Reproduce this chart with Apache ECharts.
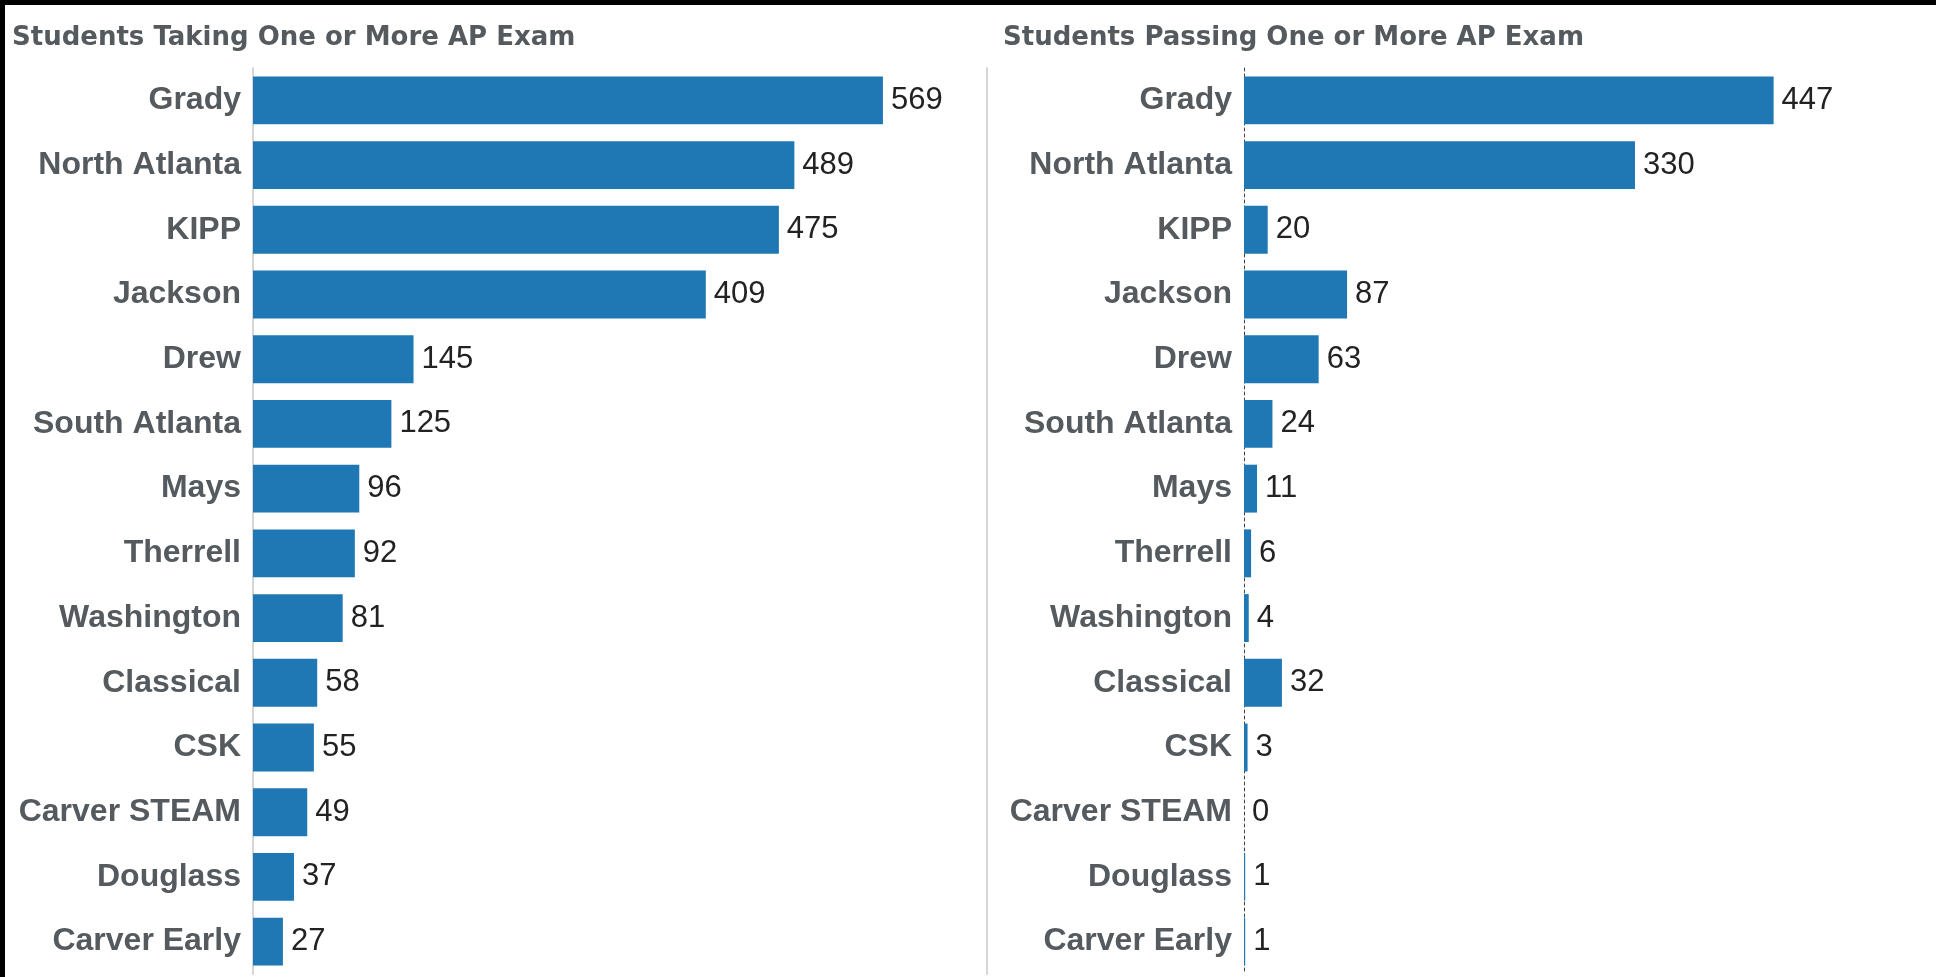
<!DOCTYPE html>
<html>
<head>
<meta charset="utf-8">
<script src="https://cdn.jsdelivr.net/npm/echarts@6/dist/echarts.min.js"></script>
<style>
  html, body { margin: 0; padding: 0; background: #fff; }
  #chart { width: 1936px; height: 977px; }
</style>
</head>
<body>
<div id="chart"></div>
<script>
// schools, top to bottom as in the picture
const schools = ["Grady", "North Atlanta", "KIPP", "Jackson", "Drew", "South Atlanta", "Mays",
  "Therrell", "Washington", "Classical", "CSK", "Carver STEAM", "Douglass", "Carver Early"];
const taking = [569, 489, 475, 409, 145, 125, 96, 92, 81, 58, 55, 49, 37, 27];
const passing = [447, 330, 20, 87, 63, 24, 11, 6, 4, 32, 3, 0, 1, 1];
const titles = ["Students Taking One or More AP Exam", "Students Passing One or More AP Exam"];

const barColor = "#1f77b4";
const titleStyle = { fontFamily: "DejaVu Sans", fontWeight: "bold", fontSize: 26, color: "#555a5f" };
const catLabel = {
  fontFamily: "Liberation Sans",
  fontWeight: "bold",
  fontSize: 32,
  color: "#555a5f",
  margin: 12
};
const valLabel = {
  show: true,
  position: "right",
  distance: 8,
  fontFamily: "Liberation Sans",
  fontSize: 31,
  color: "#222"
};

const chart = echarts.init(document.getElementById("chart"));
chart.setOption({
  animation: false,
  title: [
    { text: titles[0], left: 7, top: 20, textStyle: titleStyle },
    { text: titles[1], left: 998, top: 20, textStyle: titleStyle }
  ],
  grid: [
    { left: 253, right: 949, top: 68, bottom: 3 },
    { left: 1244, right: 6, top: 68, bottom: 3 }
  ],
  xAxis: [
    { type: "value", gridIndex: 0, min: 0, max: 663, show: false },
    { type: "value", gridIndex: 1, min: 0, max: 579, show: false }
  ],
  yAxis: [
    { type: "category", gridIndex: 0, data: schools, inverse: true,
      axisTick: { show: false }, axisLabel: catLabel,
      axisLine: { lineStyle: { color: "#d6d6d6", width: 2 } } },
    { type: "category", gridIndex: 1, data: schools, inverse: true,
      axisTick: { show: false }, axisLabel: catLabel,
      axisLine: { lineStyle: { color: "#444", width: 1, type: [3, 3] } } },
    // divider between the two panels
    { type: "category", gridIndex: 0, data: schools, inverse: true, position: "right",
      axisTick: { show: false }, axisLabel: { show: false },
      axisLine: { lineStyle: { color: "#d6d6d6", width: 2 } } }
  ],
  series: [
    { type: "bar", xAxisIndex: 0, yAxisIndex: 0, data: taking,
      barCategoryGap: "26%", itemStyle: { color: barColor }, label: valLabel },
    { type: "bar", xAxisIndex: 1, yAxisIndex: 1, data: passing,
      barCategoryGap: "26%", itemStyle: { color: barColor }, label: valLabel, z: 3 }
  ],
  graphic: [
    { type: "rect", left: 0, top: 0, z: 100,
      shape: { x: 0, y: 0, width: 1936, height: 977 },
      style: { fill: "none", stroke: "#000", lineWidth: 5 } }
  ]
});
</script>
</body>
</html>
